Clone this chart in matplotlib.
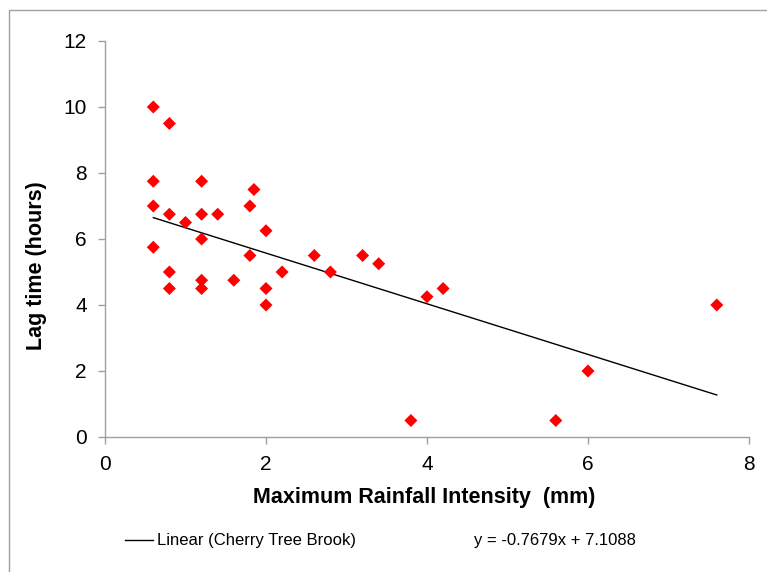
import matplotlib
matplotlib.use("Agg")
import matplotlib.pyplot as plt
from matplotlib.patches import Rectangle
import numpy as np

plt.rcParams['font.family'] = ['Liberation Sans', 'DejaVu Sans']

# rainfall intensity (mm) vs lag time (hours), Cherry Tree Brook
intensity = [0.6, 0.8, 0.6, 1.2, 1.85, 0.6, 1.8, 0.8, 1.2, 1.4, 1.0,
             2.0, 1.2, 0.6, 1.8, 0.8, 2.2, 1.2, 1.6, 0.8, 1.2, 2.0,
             2.0, 2.6, 2.8, 3.2, 3.4, 4.0, 4.2, 3.8, 5.6, 6.0, 7.6]
lag_time = [10.0, 9.5, 7.75, 7.75, 7.5, 7.0, 7.0, 6.75, 6.75, 6.75, 6.5,
            6.25, 6.0, 5.75, 5.5, 5.0, 5.0, 4.75, 4.75, 4.5, 4.5, 4.5,
            4.0, 5.5, 5.0, 5.5, 5.25, 4.25, 4.5, 0.5, 0.5, 2.0, 4.0]

slope = -0.7679
intercept = 7.1088

fig = plt.figure(figsize=(7.67, 5.72), dpi=100)
ax = fig.add_axes([105 / 767, 1 - 437 / 572, 644 / 767, 396 / 572])

ax.scatter(intensity, lag_time, marker='D', s=44, color='#ff0000',
           edgecolors='none', zorder=3)

x_fit = np.array([min(intensity), max(intensity)])
trend, = ax.plot(x_fit, slope * x_fit + intercept, color='black', lw=1.0,
                 label='Linear (Cherry Tree Brook)')

ax.set_xlim(0, 8)
ax.set_ylim(0, 12)
ax.set_xticks(range(0, 9, 2))
ax.set_yticks(range(0, 13, 2))

for side in ['top', 'right']:
    ax.spines[side].set_visible(False)
for side in ['left', 'bottom']:
    ax.spines[side].set_color('#a0a0a0')
    ax.spines[side].set_linewidth(1.0)
ax.tick_params(axis='both', colors='#a0a0a0', labelcolor='black',
               length=5, width=1.0, labelsize=15)
ax.tick_params(axis='y', pad=8)
ax.tick_params(axis='x', pad=8)

ax.set_xlabel('Maximum Rainfall Intensity  (mm)', fontsize=15.5,
              fontweight='bold', va='center')
ax.xaxis.set_label_coords((424 - 105) / 644, -(498 - 437) / 396)
ax.set_ylabel('Lag time (hours)', fontsize=15.5, fontweight='bold',
              va='center')
ax.yaxis.set_label_coords(-(105 - 37) / 644, (437 - 266) / 396)

fig.legend(handles=[trend], loc='center left',
           bbox_to_anchor=(110 / 767, 1 - 541 / 572), frameon=False,
           fontsize=12, handlelength=1.7, handletextpad=0.2)
fig.text(474 / 767, 1 - 541 / 572,
         'y = %.4fx + %.4f' % (slope, intercept),
         fontsize=12, va='center', ha='left')

# chart area border
fig.add_artist(Rectangle((9 / 767, -0.2), 1.2, 1.2 - 10 / 572,
                         transform=fig.transFigure, fill=False,
                         edgecolor='#a0a0a0', lw=1.0))

fig.savefig('out.png', dpi=100)
